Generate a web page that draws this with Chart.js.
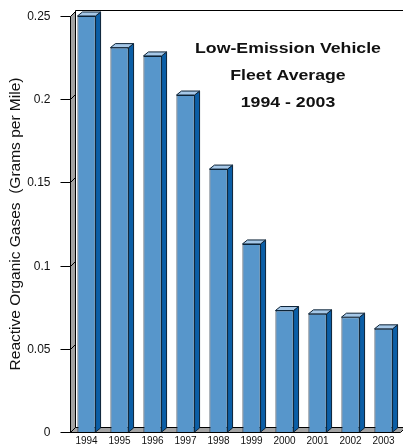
<!DOCTYPE html>
<html>
<head>
<meta charset="utf-8">
<script src="https://cdn.jsdelivr.net/npm/chart.js@4.4.1/dist/chart.umd.min.js"></script>
<style>
  body { margin: 0; background: #fff; }
  canvas { display: block; }
</style>
</head>
<body>
<canvas id="rogChart" width="403" height="448"></canvas>
<script>
// Fleet average ROG, grams per mile
const years = ['1994', '1995', '1996', '1997', '1998', '1999', '2000', '2001', '2002', '2003'];
const rogValues = [0.25, 0.231, 0.226, 0.2025, 0.158, 0.113, 0.073, 0.071, 0.069, 0.062];
const yTicks = [0, 0.05, 0.1, 0.15, 0.2, 0.25];
const titleLines = ['Low-Emission Vehicle', 'Fleet Average', '1994 - 2003'];

const WALL = 5;   // depth of walls / floor
const BAR_DX = 5; // depth of the columns
const BAR_DY = 4;
const FONT = '"Liberation Sans", Arial, sans-serif';

function px(v) { return Math.round(v) + 0.5; }

function poly(ctx, pts, fill, stroke) {
    ctx.beginPath();
    ctx.moveTo(pts[0][0], pts[0][1]);
    for (let i = 1; i < pts.length; i++) ctx.lineTo(pts[i][0], pts[i][1]);
    ctx.closePath();
    ctx.fillStyle = fill;
    ctx.fill();
    ctx.strokeStyle = stroke;
    ctx.stroke();
}

// walls, floor, slanted tick marks and y labels, then the sides/tops of the columns
const box3d = {
    id: 'box3d',
    beforeDatasetsDraw(chart) {
        const { ctx, chartArea: a, scales: { y } } = chart;
        const l = px(a.left), r = px(a.right), t = px(a.top), b = px(a.bottom);
        ctx.save();
        ctx.lineWidth = 1;
        ctx.strokeStyle = '#000';

        // back wall edges
        ctx.beginPath();
        ctx.moveTo(l + WALL, b - WALL);
        ctx.lineTo(l + WALL, t - WALL - 1);
        ctx.lineTo(r + WALL, t - WALL - 1);
        ctx.stroke();

        // left wall
        poly(ctx, [[l, t], [l + WALL, t - WALL], [l + WALL, b - WALL], [l, b]], '#a3a3a3', '#000');
        // floor
        poly(ctx, [[l, b], [r, b], [r + WALL, b - WALL], [l + WALL, b - WALL]], '#a3a3a3', '#000');

        // tick marks running onto the wall, with their labels
        ctx.beginPath();
        ctx.fillStyle = '#111';
        ctx.font = '12px ' + FONT;
        ctx.textAlign = 'right';
        ctx.textBaseline = 'middle';
        y.ticks.forEach(tk => {
            const py = px(y.getPixelForValue(tk.value));
            ctx.moveTo(l - 10, py);
            ctx.lineTo(l, py);
            ctx.lineTo(l + WALL, py - WALL);
            ctx.fillText(tk.label, l - 20, py);
        });
        ctx.strokeStyle = '#000';
        ctx.stroke();
        ctx.restore();
    },
    afterDatasetsDraw(chart) {
        const ctx = chart.ctx;
        const meta = chart.getDatasetMeta(0);
        ctx.save();
        ctx.lineWidth = 1;
        meta.data.forEach(bar => {
            const { x, y, base, width } = bar.getProps(['x', 'y', 'base', 'width'], true);
            const xl = x - width / 2, xr = x + width / 2;
            // side face
            poly(ctx, [[xr, y], [xr + BAR_DX, y - BAR_DY], [xr + BAR_DX, base - BAR_DY], [xr, base]], '#0b5ea6', '#0c2236');
            // top face
            poly(ctx, [[xl, y], [xl + BAR_DX, y - BAR_DY], [xr + BAR_DX, y - BAR_DY], [xr, y]], '#a6c8e8', '#0c2236');
        });

        // title inside the plot
        ctx.fillStyle = '#111';
        ctx.font = 'bold 15px ' + FONT;
        ctx.textAlign = 'center';
        ctx.textBaseline = 'alphabetic';
        const baselines = [53, 80, 107];
        titleLines.forEach((line, i) => {
            ctx.save();
            ctx.translate(288, baselines[i]);
            ctx.scale(1.18, 1);
            ctx.fillText(line, 0, 0);
            ctx.restore();
        });
        ctx.restore();
    }
};

const ctx = document.getElementById('rogChart').getContext('2d');
new Chart(ctx, {
    type: 'bar',
    data: {
        labels: years,
        datasets: [{
            data: rogValues,
            backgroundColor: '#5796cb',
            borderColor: '#0c2236',
            borderWidth: 1,
            barPercentage: 0.55,
            categoryPercentage: 1.0
        }]
    },
    options: {
        responsive: false,
        animation: false,
        layout: {
            padding: { top: 16, right: 3, left: 0, bottom: 0 }
        },
        plugins: {
            legend: { display: false },
            tooltip: { enabled: false }
        },
        scales: {
            x: {
                grid: { display: false, drawTicks: false },
                border: { display: false },
                ticks: {
                    color: '#111',
                    padding: 3,
                    maxRotation: 0,
                    autoSkip: false,
                    font: { family: FONT, size: 10 }
                },
                afterFit(scale) { scale.height = 16; }
            },
            y: {
                min: 0,
                max: 0.25,
                grid: { display: false, drawTicks: false },
                border: { display: false },
                ticks: {
                    display: false,
                    stepSize: 0.05,
                    callback: v => String(+v.toFixed(2))
                },
                afterBuildTicks(scale) {
                    scale.ticks = yTicks.map(v => ({ value: v }));
                },
                title: {
                    display: true,
                    text: 'Reactive Organic Gases  (Grams per Mile)',
                    color: '#111',
                    padding: { top: 6, bottom: 0 },
                    font: { family: FONT, size: 15.5, weight: 'normal' }
                },
                afterFit(scale) { scale.width = 70; }
            }
        }
    },
    plugins: [box3d]
});
</script>
</body>
</html>
